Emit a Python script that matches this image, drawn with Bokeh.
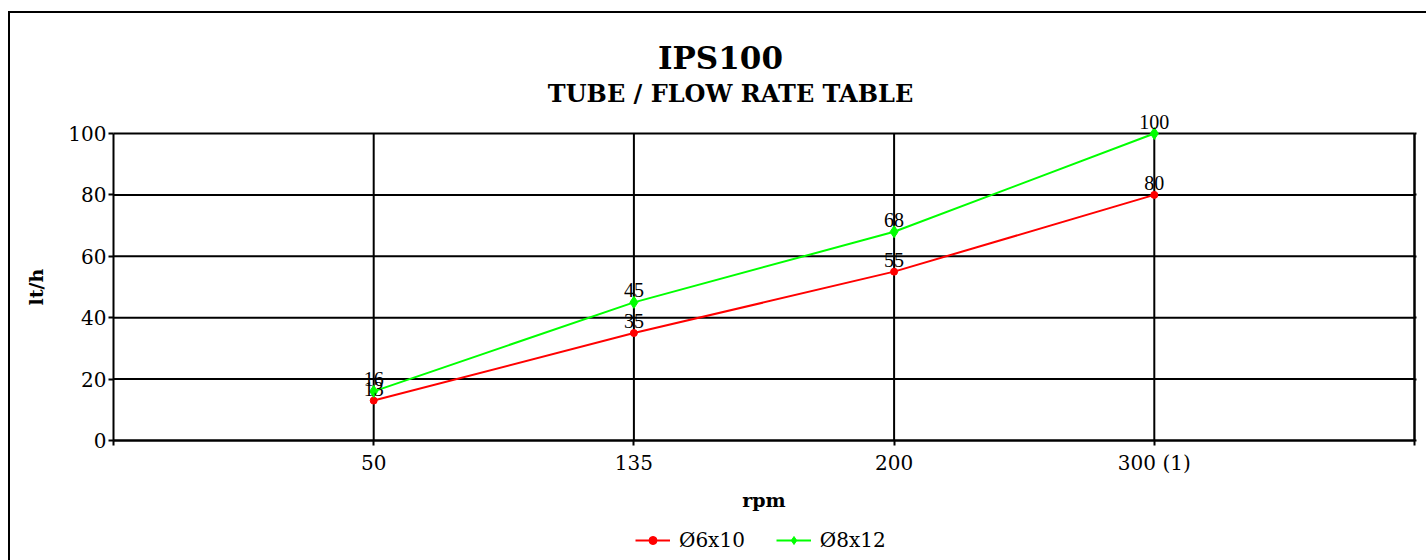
from bokeh.plotting import figure
from bokeh.models import (FixedTicker, LinearAxis, Range1d, Legend, LegendItem,
                          ColumnDataSource, LabelSet, Label)
from bokeh.embed import file_html
from bokeh.resources import INLINE

# ---- data ----
rpm_labels = ["50", "135", "200", "300 (1)"]
series_names = ["Ø6x10", "Ø8x12"]
flow_6x10 = [13, 35, 55, 80]
flow_8x12 = [16, 45, 68, 100]
y_ticks = [0, 20, 40, 60, 80, 100]
title_text = "IPS100"
subtitle_text = "TUBE / FLOW RATE TABLE"
x_title = "rpm"
y_title = "lt/h"

FONT = "DejaVu Serif"
RED = "#ff0000"
GREEN = "#00ff00"

# ---- layout (pixels) ----
W, H = 1426, 560
PLOT_L, PLOT_R, PLOT_T, PLOT_B = 113, 1414, 133, 440

x_pos = list(range(1, len(rpm_labels) + 1))
x_edges = list(range(0, len(rpm_labels) + 2))
x0, x1 = x_edges[0], x_edges[-1]
y0, y1 = y_ticks[0], y_ticks[-1]

xppu = (PLOT_R - PLOT_L) / (x1 - x0)
yppu = (PLOT_B - PLOT_T) / (y1 - y0)
x_range = Range1d(x0 - PLOT_L / xppu, x1 + (W - PLOT_R) / xppu)
y_range = Range1d(y0 - (H - PLOT_B) / yppu, y1 + PLOT_T / yppu)

p = figure(width=W, height=H, min_border=0, x_range=x_range, y_range=y_range,
           output_backend="svg", toolbar_location=None, title_location=None)
p.outline_line_color = None
p.background_fill_color = None
p.border_fill_color = None
p.styles = {
    "background-color": "white",
    "background-image": "linear-gradient(#000,#000), linear-gradient(#000,#000)",
    "background-position": "8px 11px, 8px 11px",
    "background-size": "2px 100%, 100% 2px",
    "background-repeat": "no-repeat",
}
p.xgrid.visible = False
p.ygrid.visible = False

# ---- grid lines ----
hx = [x0] * len(y_ticks)
hx1 = [x1] * len(y_ticks)
p.segment(x0=hx, y0=y_ticks, x1=hx1, y1=y_ticks, line_color="black", line_width=2)
vx = x_pos + [x1]
p.segment(x0=vx, y0=[y0] * len(vx), x1=vx, y1=[y1] * len(vx),
          line_color="black", line_width=2)

# ---- axes ----
xa = p.xaxis[0]
xa.fixed_location = y0
xa.bounds = (x0, x1)
xa.ticker = FixedTicker(ticks=x_edges)
overrides = {e: " " for e in x_edges}
for xp, lab in zip(x_pos, rpm_labels):
    overrides[xp] = lab
xa.major_label_overrides = overrides
xa.axis_label = x_title

ya = p.yaxis[0]
ya.fixed_location = x0
ya.bounds = (y0, y1)
ya.ticker = FixedTicker(ticks=y_ticks)
ya.axis_label = y_title

for ax in (xa, ya):
    ax.axis_line_color = "black"
    ax.axis_line_width = 2
    ax.major_tick_line_color = "black"
    ax.major_tick_line_width = 2
    ax.major_tick_in = 0
    ax.major_tick_out = 5
    ax.minor_tick_line_color = None
    ax.major_label_text_font = FONT
    ax.major_label_text_font_size = "20px"
    ax.major_label_text_color = "black"
    ax.axis_label_text_font = FONT
    ax.axis_label_text_font_size = "19px"
    ax.axis_label_text_font_style = "bold"
    ax.axis_label_text_color = "black"
xa.major_label_standoff = 5
xa.axis_label_standoff = 11
ya.major_label_standoff = 2
ya.axis_label_standoff = 18

ra = LinearAxis(ticker=FixedTicker(ticks=y_ticks), fixed_location=x1, bounds=(y0, y1),
                axis_line_width=2, axis_line_color="black",
                major_tick_in=0, major_tick_out=2, major_tick_line_width=2,
                minor_tick_line_color=None,
                major_label_overrides={t: " " for t in y_ticks},
                major_label_text_font_size="4px", major_label_standoff=0)
p.add_layout(ra, "right")

# ---- series ----
r1 = p.line(x_pos, flow_6x10, line_color=RED, line_width=2)
s1 = p.scatter(x_pos, flow_6x10, marker="circle", size=7, color=RED)
r2 = p.line(x_pos, flow_8x12, line_color=GREEN, line_width=2)
s2 = p.scatter(x_pos, flow_8x12, marker="diamond", size=12, color=GREEN)

for vals in (flow_6x10, flow_8x12):
    src = ColumnDataSource(dict(x=x_pos, y=vals, t=[str(v) for v in vals]))
    p.add_layout(LabelSet(x="x", y="y", text="t", source=src, text_align="center",
                          text_baseline="alphabetic", y_offset=5,
                          text_font=FONT, text_font_size="20px", text_color="black"))

# ---- titles ----
p.add_layout(Label(x=720, y=H - 57, x_units="screen", y_units="screen", text=title_text,
                   text_font=FONT, text_font_size="31px", text_font_style="bold",
                   text_align="center", text_baseline="alphabetic", text_color="black"))
p.add_layout(Label(x=730, y=H - 93, x_units="screen", y_units="screen", text=subtitle_text,
                   text_font=FONT, text_font_size="24px", text_font_style="bold",
                   text_align="center", text_baseline="alphabetic", text_color="black"))

# ---- legend ----
legend = Legend(items=[LegendItem(label=series_names[0], renderers=[r1, s1]),
                       LegendItem(label=series_names[1], renderers=[r2, s2])],
                orientation="horizontal", location=(635, 8),
                border_line_color=None, background_fill_alpha=0,
                label_text_font=FONT, label_text_font_size="20px",
                label_text_color="black",
                glyph_width=35, glyph_height=20, label_standoff=9, spacing=31,
                padding=0, margin=0)
p.add_layout(legend, "center")

open("out.html", "w").write(file_html(p, INLINE))
